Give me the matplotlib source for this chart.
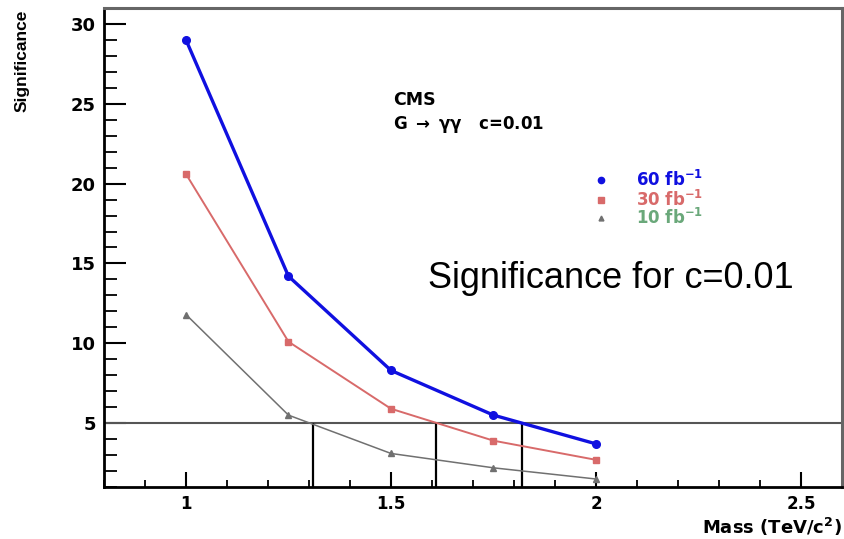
import matplotlib
matplotlib.use("Agg")
import matplotlib.pyplot as plt
from matplotlib.ticker import MultipleLocator

# G -> gamma gamma significance vs graviton mass, c = 0.01
mass = [1.0, 1.25, 1.5, 1.75, 2.0]
sig_60 = [29.0, 14.2, 8.3, 5.5, 3.7]
sig_30 = [20.6, 10.1, 5.9, 3.9, 2.7]
sig_10 = [11.8, 5.5, 3.1, 2.2, 1.5]

# mass reach at 5 sigma for each luminosity
reach_5sigma = [1.31, 1.61, 1.82]
discovery_level = 5

lumi_labels = ["60 fb$^{-1}$", "30 fb$^{-1}$", "10 fb$^{-1}$"]

plt.rcParams["font.family"] = ["DejaVu Sans"]
plt.rcParams["mathtext.default"] = "regular"

fig = plt.figure(figsize=(8.44, 5.39), dpi=100)
ax = fig.add_axes([0.1232, 0.0965, 0.8744, 0.8887])

ax.plot(mass, sig_60, "-o", color="#1010e0", lw=2.4, ms=5.5, zorder=4)
ax.plot(mass, sig_30, "-s", color="#d86a6a", lw=1.4, ms=5, zorder=3)
ax.plot(mass, sig_10, "-^", color="#707070", lw=1.1, ms=4, zorder=3)

ax.axhline(discovery_level, color="#555555", lw=1.5, zorder=2)
ax.vlines(reach_5sigma, 1, discovery_level, colors="black", lw=1.6, zorder=2)

ax.set_xlim(0.8, 2.6)
ax.set_ylim(1, 31)
ax.xaxis.set_minor_locator(MultipleLocator(0.1))
ax.yaxis.set_minor_locator(MultipleLocator(1))
ax.set_xticks([1, 1.5, 2, 2.5])
ax.set_xticklabels(["1", "1.5", "2", "2.5"])
ax.set_yticks([5, 10, 15, 20, 25, 30])

ax.tick_params(axis="y", which="major", direction="in", length=16, width=1.5,
               labelsize=13, pad=6)
ax.tick_params(axis="y", which="minor", direction="in", length=9, width=1.3)
ax.tick_params(axis="x", which="major", direction="in", length=11, width=1.5,
               labelsize=12, pad=6)
ax.tick_params(axis="x", which="minor", direction="in", length=5, width=1.3)
for lab in ax.get_xticklabels() + ax.get_yticklabels():
    lab.set_fontweight("bold")

for side in ["left", "bottom"]:
    ax.spines[side].set_linewidth(2.0)
    ax.spines[side].set_color("black")
for side in ["top", "right"]:
    ax.spines[side].set_linewidth(2.2)
    ax.spines[side].set_color("#666666")

ax.set_ylabel("Significance", fontsize=12.5, fontweight="bold",
              family=["Liberation Sans Narrow", "Liberation Sans"])
ax.yaxis.set_label_coords(-0.111, 0.996)
ax.yaxis.label.set(va="center", ha="right")
ax.set_xlabel("Mass (TeV/c$^2$)", fontsize=13, fontweight="bold")
ax.xaxis.set_label_coords(1.0, -0.083)
ax.xaxis.label.set(va="center", ha="right")

# CMS header
ax.text(0.392, 0.808, "CMS", transform=ax.transAxes, fontsize=12.5,
        fontweight="bold", va="center")
ax.text(0.392, 0.757, "G $\\rightarrow$ $\\gamma\\gamma$   c=0.01",
        transform=ax.transAxes, fontsize=12, fontweight="bold", va="center")

# hand-drawn legend
leg_x, leg_tx = 2.012, 2.097
leg_y = [20.2, 18.97, 17.84]
for y, mk, ms, col, tcol, lab in zip(
        leg_y, ["o", "s", "^"], [4.5, 4.5, 3.5],
        ["#1010e0", "#d86a6a", "#707070"],
        ["#1010e0", "#d86a6a", "#6aa87a"], lumi_labels):
    ax.plot([leg_x], [y], marker=mk, ms=ms, color=col, ls="none")
    ax.text(leg_tx, y, lab, color=tcol, fontsize=12, fontweight="bold",
            va="center")

ax.text(0.439, 0.436, "Significance for c=0.01", transform=ax.transAxes,
        fontsize=26, va="center", ha="left", family="Liberation Sans")

fig.savefig("out.png", dpi=100)
